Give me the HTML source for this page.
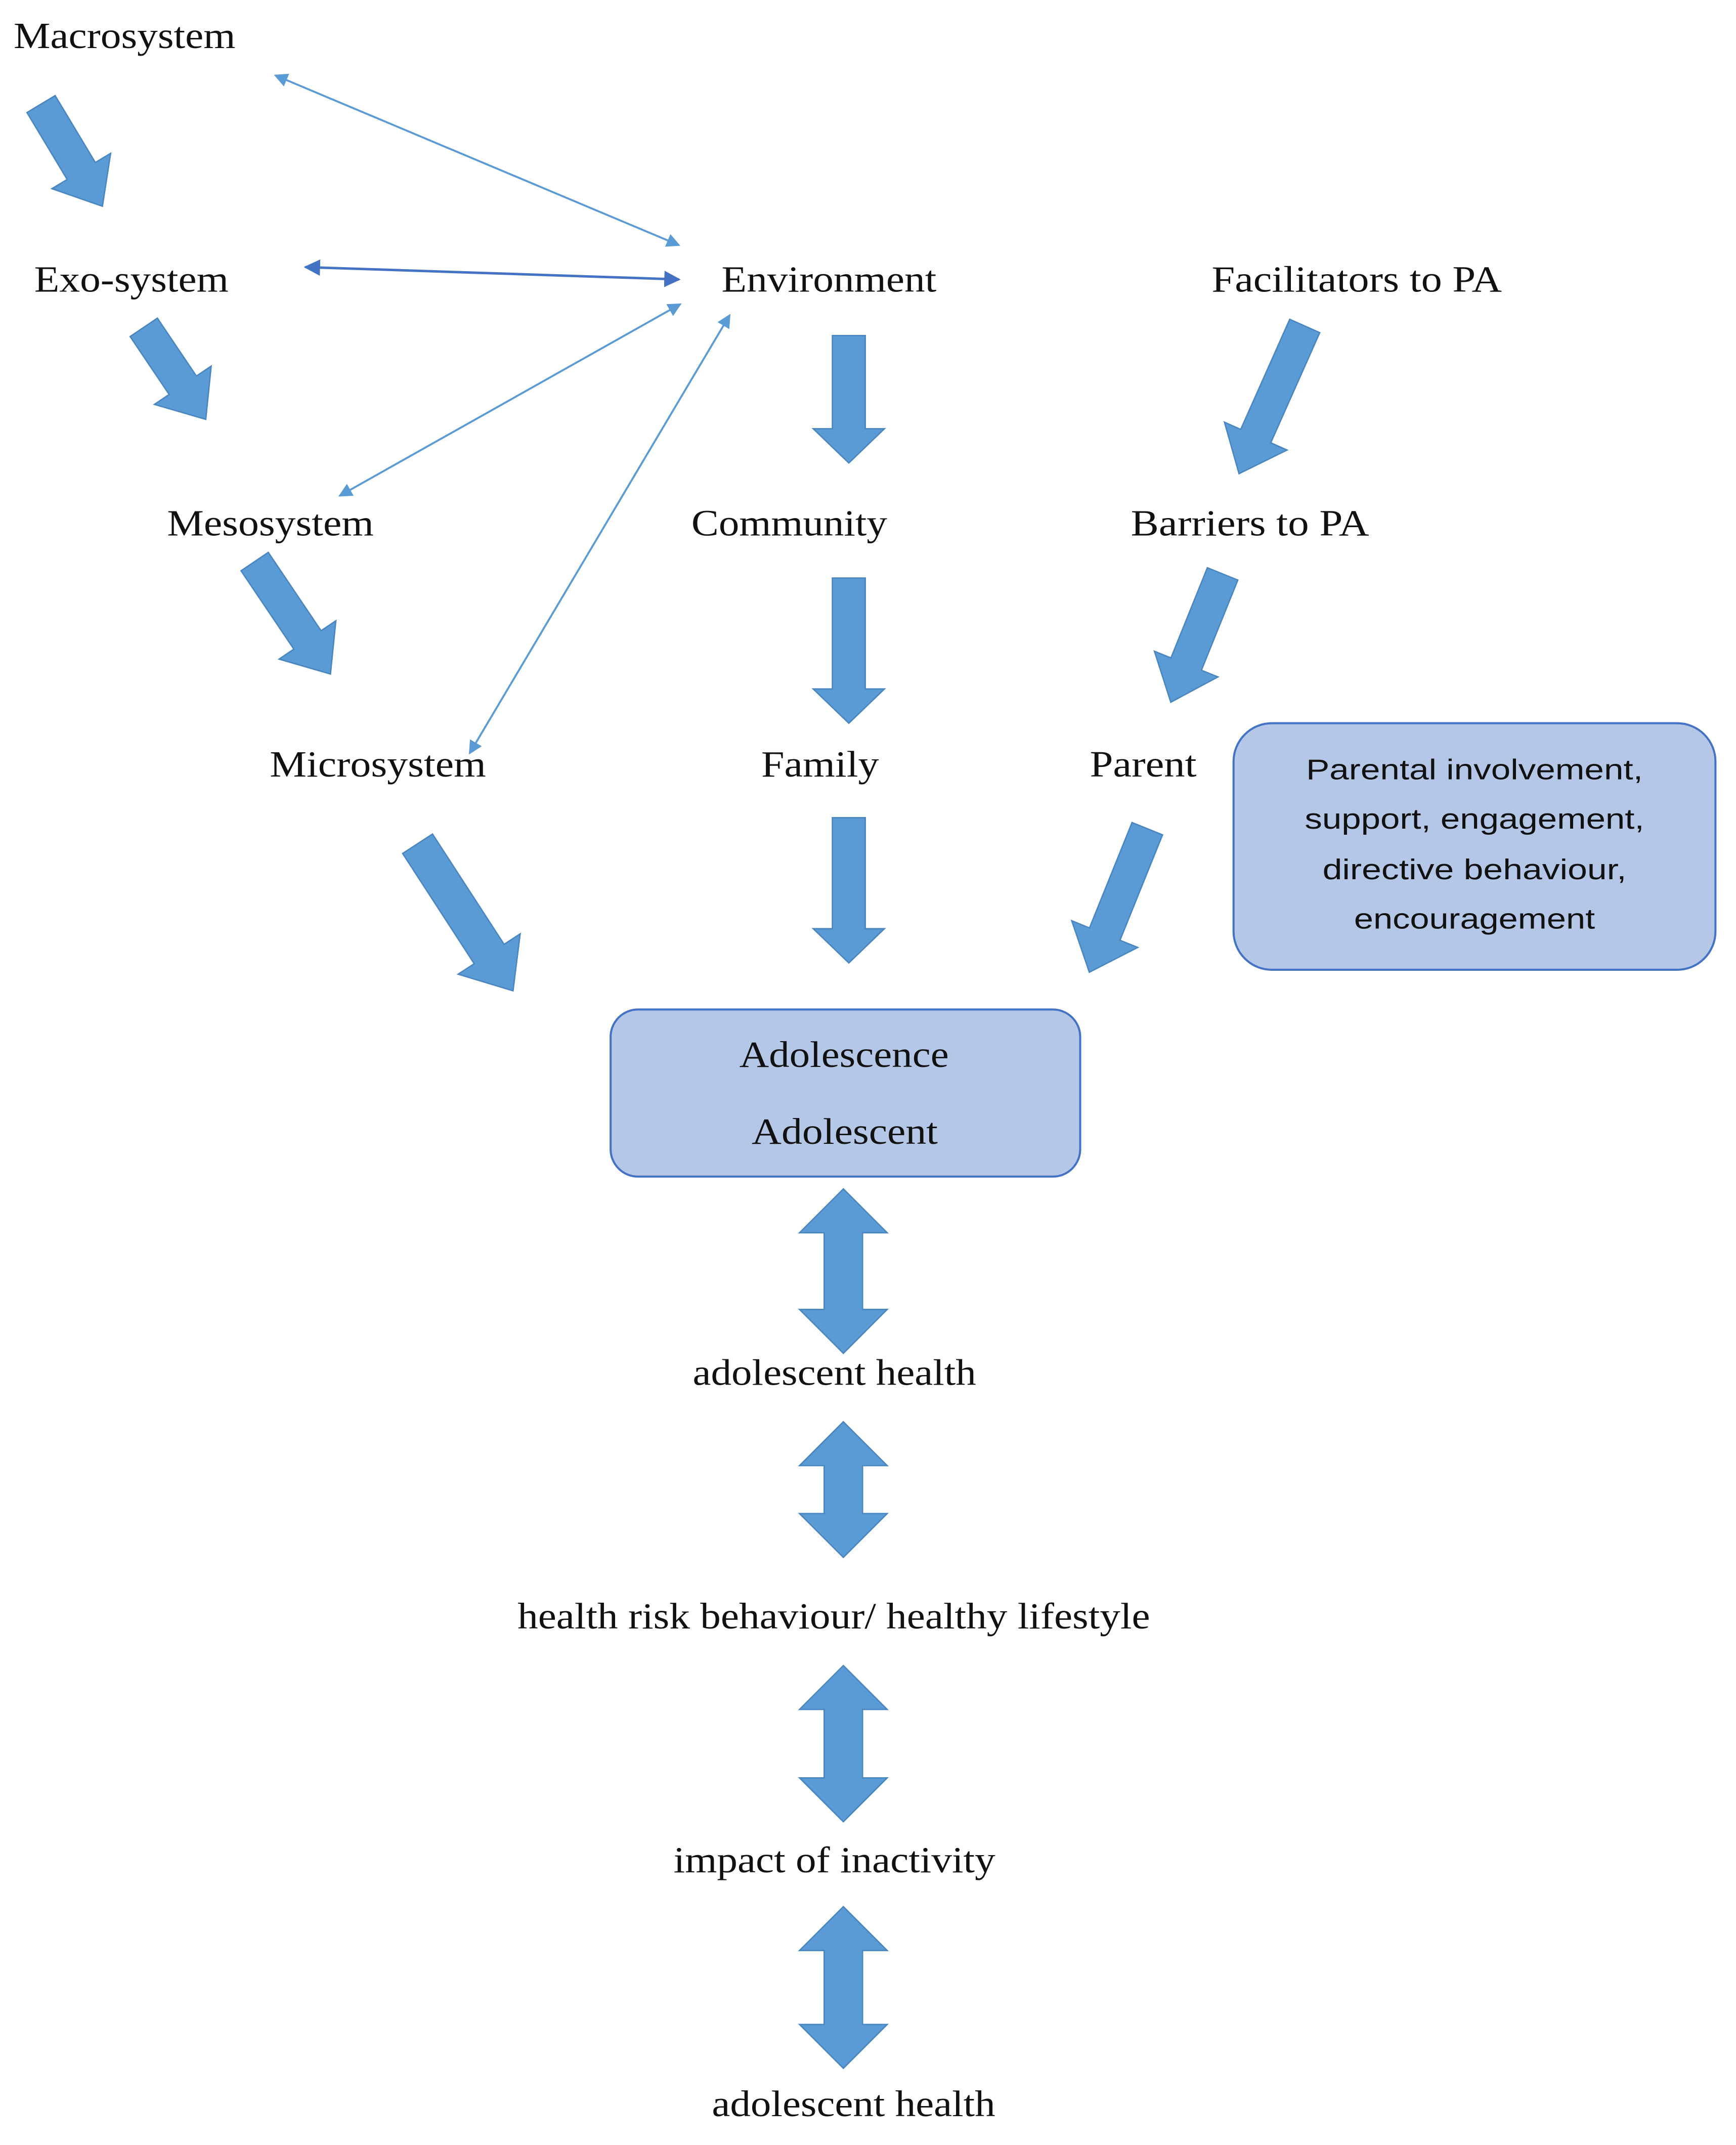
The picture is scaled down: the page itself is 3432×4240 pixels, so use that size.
<!DOCTYPE html>
<html><head><meta charset="utf-8"><style>
html,body{margin:0;padding:0;background:#fff;}
svg{display:block;}
.t{font-family:"Liberation Serif",serif;font-size:27px;fill:#111;}
.s{font-family:"Liberation Sans",sans-serif;font-size:21px;fill:#111;}
.a{fill:#5b9bd5;stroke:#4a86c0;stroke-width:1;}
.l{stroke:#5b9bd5;stroke-width:1.4;fill:none;}
</style></head><body>
<svg width="3432" height="4240" viewBox="0 0 1268 1566" preserveAspectRatio="none" xmlns="http://www.w3.org/2000/svg">
<defs>
<marker id="m" viewBox="0 0 10 10" refX="9" refY="5" markerWidth="10" markerHeight="10" markerUnits="userSpaceOnUse" orient="auto-start-reverse"><path d="M0,0L10,5L0,10z" fill="#5b9bd5"/></marker>
<marker id="m2" viewBox="0 0 10 10" refX="9" refY="5" markerWidth="12" markerHeight="12" markerUnits="userSpaceOnUse" orient="auto-start-reverse"><path d="M0,0L10,5L0,10z" fill="#4472c4"/></marker>
</defs>

<line class="l" x1="201" y1="55" x2="496" y2="179" marker-start="url(#m)" marker-end="url(#m)"/>
<line x1="223" y1="195" x2="496" y2="204" stroke="#4472c4" stroke-width="1.8" marker-start="url(#m2)" marker-end="url(#m2)"/>
<line class="l" x1="497" y1="222" x2="248" y2="362" marker-start="url(#m)" marker-end="url(#m)"/>
<line class="l" x1="533" y1="230" x2="343" y2="550" marker-start="url(#m)" marker-end="url(#m)"/>

<g transform="translate(30,76) rotate(59)"><polygon class="a" points="0,-12 57,-12 57,-25 87,0 57,25 57,12 0,12"/></g>
<g transform="translate(105,239) rotate(56)"><polygon class="a" points="0,-12 51,-12 51,-25 81,0 51,25 51,12 0,12"/></g>
<g transform="translate(186,410) rotate(56)"><polygon class="a" points="0,-12 69,-12 69,-25 99,0 69,25 69,12 0,12"/></g>
<g transform="translate(305,616) rotate(57)"><polygon class="a" points="0,-13 96,-13 96,-27 128,0 96,27 96,13 0,13"/></g>
<g transform="translate(620,245) rotate(90)"><polygon class="a" points="0,-12 68,-12 68,-26 93,0 68,26 68,12 0,12"/></g>
<g transform="translate(620,422) rotate(90)"><polygon class="a" points="0,-12 81,-12 81,-26 106,0 81,26 81,12 0,12"/></g>
<g transform="translate(620,597) rotate(90)"><polygon class="a" points="0,-12 81,-12 81,-26 106,0 81,26 81,12 0,12"/></g>
<g transform="translate(953,238) rotate(114)"><polygon class="a" points="0,-12 88,-12 88,-25 118,0 88,25 88,12 0,12"/></g>
<g transform="translate(893,419) rotate(112)"><polygon class="a" points="0,-12 71,-12 71,-25 101,0 71,25 71,12 0,12"/></g>
<g transform="translate(838,605) rotate(112)"><polygon class="a" points="0,-12 83,-12 83,-26 113,0 83,26 83,12 0,12"/></g>

<polygon class="a" points="616,868 648,900 630,900 630,956 648,956 616,988 584,956 602,956 602,900 584,900"/>
<polygon class="a" points="616,1038 648,1070 630,1070 630,1105 648,1105 616,1137 584,1105 602,1105 602,1070 584,1070"/>
<polygon class="a" points="616,1216 648,1248 630,1248 630,1298 648,1298 616,1330 584,1298 602,1298 602,1248 584,1248"/>
<polygon class="a" points="616,1392 648,1424 630,1424 630,1478 648,1478 616,1510 584,1478 602,1478 602,1424 584,1424"/>

<rect x="446" y="737" width="343" height="122" rx="20" fill="#b4c7e7" stroke="#4472c4" stroke-width="1.5"/>
<rect x="901" y="528" width="352" height="180" rx="28" fill="#b4c7e7" stroke="#4472c4" stroke-width="1.5"/>

<text class="t" x="10" y="35" textLength="162" lengthAdjust="spacingAndGlyphs">Macrosystem</text>
<text class="t" x="25" y="213" textLength="142" lengthAdjust="spacingAndGlyphs">Exo-system</text>
<text class="t" x="122" y="391" textLength="151" lengthAdjust="spacingAndGlyphs">Mesosystem</text>
<text class="t" x="197" y="567" textLength="158" lengthAdjust="spacingAndGlyphs">Microsystem</text>
<text class="t" x="527" y="213" textLength="157" lengthAdjust="spacingAndGlyphs">Environment</text>
<text class="t" x="505" y="391" textLength="143" lengthAdjust="spacingAndGlyphs">Community</text>
<text class="t" x="556" y="567" textLength="86" lengthAdjust="spacingAndGlyphs">Family</text>
<text class="t" x="885" y="213" textLength="212" lengthAdjust="spacingAndGlyphs">Facilitators to PA</text>
<text class="t" x="826" y="391" textLength="174" lengthAdjust="spacingAndGlyphs">Barriers to PA</text>
<text class="t" x="796" y="567" textLength="78" lengthAdjust="spacingAndGlyphs">Parent</text>
<text class="t" x="540" y="779" textLength="153" lengthAdjust="spacingAndGlyphs">Adolescence</text>
<text class="t" x="549" y="835" textLength="136" lengthAdjust="spacingAndGlyphs">Adolescent</text>
<text class="s" x="954" y="569" textLength="246" lengthAdjust="spacingAndGlyphs">Parental involvement,</text>
<text class="s" x="953" y="605" textLength="248" lengthAdjust="spacingAndGlyphs">support, engagement,</text>
<text class="s" x="966" y="642" textLength="222" lengthAdjust="spacingAndGlyphs">directive behaviour,</text>
<text class="s" x="989" y="678" textLength="176" lengthAdjust="spacingAndGlyphs">encouragement</text>
<text class="t" x="506" y="1011" textLength="207" lengthAdjust="spacingAndGlyphs">adolescent health</text>
<text class="t" x="378" y="1189" textLength="462" lengthAdjust="spacingAndGlyphs">health risk behaviour/ healthy lifestyle</text>
<text class="t" x="492" y="1367" textLength="235" lengthAdjust="spacingAndGlyphs">impact of inactivity</text>
<text class="t" x="520" y="1545" textLength="207" lengthAdjust="spacingAndGlyphs">adolescent health</text>
</svg>
</body></html>
